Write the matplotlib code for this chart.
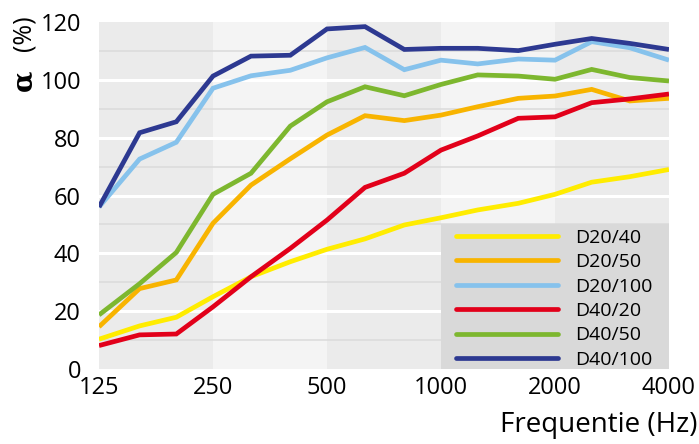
import numpy as np
import matplotlib
matplotlib.use("Agg")
import matplotlib.pyplot as plt
from matplotlib.patches import Rectangle
from matplotlib.ticker import FixedLocator, NullLocator

plt.rcParams['font.family'] = ['Open Sans', 'DejaVu Sans']

# third-octave band centre frequencies (Hz)
freqs = [125, 160, 200, 250, 315, 400, 500, 630, 800, 1000, 1250, 1600, 2000, 2500, 3150, 4000]

# absorption (%)
d20_40 = [10.3, 14.9, 17.9, 25.0, 31.9, 37.1, 41.4, 45.0, 49.8, 52.3, 55.0, 57.3, 60.4, 64.6, 66.5, 69.0]
d20_50 = [14.6, 27.8, 30.8, 50.4, 63.6, 72.7, 80.9, 87.6, 85.9, 87.8, 90.7, 93.6, 94.4, 96.7, 92.7, 93.6]
d20_100 = [56.0, 72.6, 78.4, 97.1, 101.4, 103.3, 107.6, 111.2, 103.5, 106.8, 105.5, 107.2, 106.8, 113.2, 111.1, 106.8]
d40_20 = [8.1, 11.8, 12.1, 21.5, 31.9, 41.7, 51.5, 62.8, 67.7, 75.7, 80.6, 86.7, 87.2, 92.1, 93.4, 95.1]
d40_50 = [18.7, 29.5, 40.3, 60.4, 67.7, 84.0, 92.4, 97.6, 94.5, 98.4, 101.7, 101.3, 100.2, 103.6, 100.8, 99.6]
d40_100 = [56.0, 81.7, 85.5, 101.3, 108.2, 108.5, 117.6, 118.4, 110.5, 110.9, 110.9, 110.1, 112.3, 114.3, 112.6, 110.5]

series = [
    ('D20/40', d20_40, '#ffec00'),
    ('D20/50', d20_50, '#f8b400'),
    ('D20/100', d20_100, '#86c2ec'),
    ('D40/20', d40_20, '#e2001a'),
    ('D40/50', d40_50, '#7db72f'),
    ('D40/100', d40_100, '#2d3991'),
]

xticks = [125, 250, 500, 1000, 2000, 4000]
yticks = [0, 20, 40, 60, 80, 100, 120]

fig = plt.figure(figsize=(6.99, 4.44), dpi=100)
ax = fig.add_axes([99/699, 1-369/444, 570/699, 347/444])

ax.set_xscale('log', base=2)
ax.set_xlim(125, 4000)
ax.set_ylim(0, 120)

# octave background bands
shades = ['#ebebeb', '#f4f4f4']
for i in range(len(xticks) - 1):
    ax.axvspan(xticks[i], xticks[i+1], color=shades[i % 2], lw=0, zorder=0)

# grid lines
for v in range(10, 120, 20):
    ax.axhline(v, color='#dcdcdc', lw=1.2, zorder=1)
for v in range(20, 120, 20):
    ax.axhline(v, color='white', lw=2.2, zorder=1)

for name, vals, col in series:
    ax.plot(freqs, vals, color=col, lw=3.4, label=name, zorder=3,
            solid_joinstyle='miter', solid_capstyle='butt')

# grey legend panel, 1000-4000 Hz, 0-50 %
ax.add_patch(Rectangle((1000, 0), 3000, 50, facecolor='#d9d9d9', lw=0, zorder=4))

ax.xaxis.set_major_locator(FixedLocator(xticks))
ax.xaxis.set_minor_locator(NullLocator())
ax.set_xticklabels([str(t) for t in xticks])
ax.set_yticks(yticks)
ax.tick_params(length=0, labelsize=17, pad=5)
ax.tick_params(axis='y', pad=13)
for s in ax.spines.values():
    s.set_visible(False)

leg = ax.legend(loc='upper left', bbox_to_anchor=(0.626, 0.0, 0.33, 0.404),
                mode='expand', fontsize=14, frameon=False,
                handlelength=5.25, handletextpad=0.9, labelspacing=0.33,
                borderaxespad=0, borderpad=0)
leg.set_zorder(5)
for h in leg.get_lines():
    h.set_linewidth(3.4)
    h.set_solid_capstyle('round')

fig.text(697/699, 1-425/444, 'Frequentie (Hz)', ha='right', va='center', fontsize=20)
fig.text(24/699, 1-80/444, 'α', rotation=90, ha='center', va='center',
         fontsize=20, fontweight='bold', family='DejaVu Serif')
fig.text(24/699, 1-33/444, '(%)', rotation=90, ha='center', va='center', fontsize=18)

fig.savefig('out.png', dpi=100)
